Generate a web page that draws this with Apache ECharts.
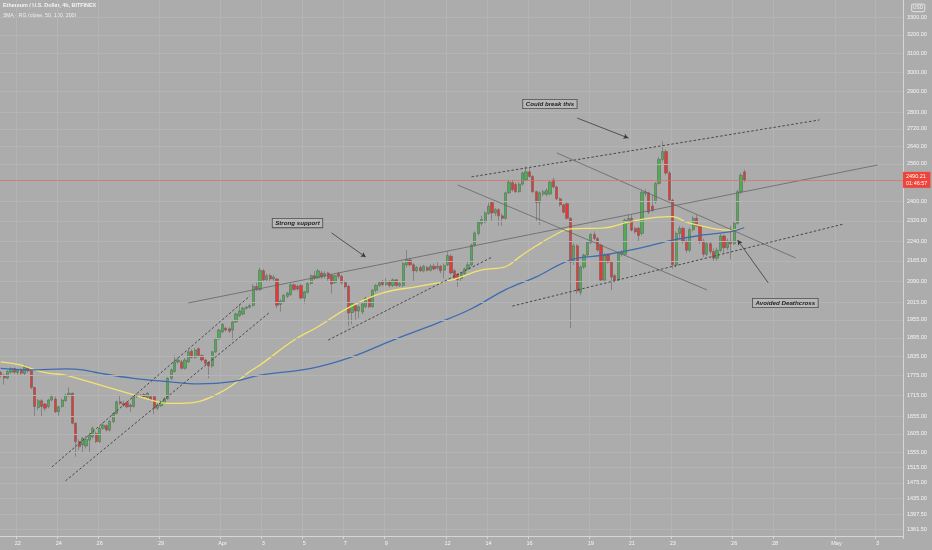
<!DOCTYPE html>
<html><head><meta charset="utf-8">
<script src="https://cdn.jsdelivr.net/npm/echarts@6/dist/echarts.min.js"></script>
<style>html,body{margin:0;padding:0;background:#acacac}#c{width:932px;height:550px}</style>
</head><body><div id="c"></div>
<script>
// ---------- data ----------
const chartTitle = 'Ethereum / U.S. Dollar, 4h, BITFINEX';
const indicatorTitle = '3MA - RG (close, 50, 100, 200)';
const startTime = Date.UTC(2021, 2, 21, 4, 0); // first 4h slot
const slotCount = 265;
// [open, high, low, close] per 4h candle from the first slot
const candles = [
[1785,1790,1770,1776],[1776,1780,1748,1768],[1768,1792,1764,1788],[1786,1801,1782,1797],[1797,1800,1780,1786],
[1785,1796,1778,1792],[1792,1798,1777,1783],[1782,1810,1778,1803],[1800,1806,1784,1790],[1790,1792,1735,1739],
[1739,1742,1655,1683],[1680,1705,1672,1700],[1700,1705,1654,1683],[1690,1694,1670,1678],[1683,1706,1678,1702],
[1702,1718,1698,1712],[1705,1712,1664,1668],[1668,1686,1656,1682],[1683,1706,1680,1702],[1700,1720,1697,1717],
[1716,1740,1712,1722],[1722,1724,1632,1635],[1635,1637,1543,1584],[1584,1590,1560,1570],[1575,1597,1556,1593],
[1572,1600,1565,1590],[1588,1608,1554,1602],[1597,1626,1592,1621],[1606,1612,1580,1584],[1584,1626,1580,1621],
[1621,1636,1616,1630],[1628,1632,1612,1616],[1616,1645,1612,1640],[1640,1666,1635,1663],[1663,1700,1660,1697],
[1697,1717,1688,1692],[1692,1700,1682,1687],[1694,1698,1678,1682],[1687,1692,1668,1683],[1683,1716,1680,1712],
[1712,1722,1708,1717],[1713,1720,1708,1716],[1718,1722,1708,1712],[1710,1726,1706,1722],[1712,1716,1698,1702],
[1712,1716,1661,1678],[1678,1692,1672,1687],[1685,1700,1682,1697],[1694,1710,1690,1706],[1706,1770,1702,1767],
[1767,1798,1762,1793],[1788,1839,1784,1818],[1818,1832,1812,1824],[1818,1824,1794,1798],[1798,1830,1794,1824],
[1818,1856,1814,1850],[1852,1858,1828,1832],[1832,1862,1828,1856],[1860,1864,1834,1838],[1838,1842,1818,1824],
[1824,1828,1808,1813],[1816,1820,1767,1805],[1805,1853,1800,1850],[1850,1896,1846,1892],[1892,1925,1888,1921],
[1915,1944,1910,1940],[1927,1932,1916,1921],[1925,1930,1912,1917],[1921,1952,1888,1948],[1948,1980,1944,1975],
[1969,2008,1965,1985],[1975,2000,1970,1995],[1995,2003,1990,1998],[1998,2010,1994,2004],[2004,2080,2000,2071],
[2071,2085,2055,2060],[2060,2140,2055,2130],[2128,2135,2090,2095],[2095,2118,2088,2110],[2110,2118,2090,2098],
[2098,2112,2090,2105],[2098,2102,1995,2005],[2008,2026,1983,2020],[2018,2044,2012,2040],[2036,2052,2030,2048],
[2042,2082,2038,2077],[2077,2082,2056,2060],[2072,2078,2055,2062],[2075,2080,2026,2030],[2030,2056,2010,2052],
[2050,2086,2046,2082],[2082,2115,2078,2110],[2110,2128,2094,2100],[2102,2135,2098,2128],[2120,2128,2098,2105],
[2108,2126,2100,2118],[2120,2124,2092,2100],[2112,2116,2046,2080],[2085,2115,2080,2110],[2118,2124,2100,2108],
[2108,2114,2078,2085],[2085,2092,2064,2070],[2072,2076,1934,1978],[1980,2016,1940,2012],[2005,2010,1955,1985],
[1985,2005,1960,2000],[1982,2015,1975,2010],[2000,2035,1995,2030],[2030,2034,1995,2000],[2000,2062,1996,2058],
[2058,2080,2050,2075],[2075,2090,2070,2085],[2090,2094,2072,2078],[2078,2102,2074,2090],[2088,2094,2068,2075],
[2075,2100,2070,2095],[2095,2098,2070,2075],[2075,2088,2070,2082],[2075,2160,2070,2155],[2150,2206,2140,2170],
[2168,2176,2145,2150],[2150,2156,2088,2128],[2128,2146,2122,2140],[2140,2148,2124,2128],[2128,2150,2122,2145],
[2140,2146,2125,2130],[2130,2152,2125,2145],[2145,2155,2130,2135],[2138,2160,2132,2145],[2145,2150,2118,2128],
[2130,2155,2100,2148],[2150,2200,2145,2185],[2182,2190,2115,2120],[2128,2135,2094,2100],[2115,2120,2070,2095],
[2100,2124,2090,2118],[2118,2140,2112,2135],[2135,2160,2130,2150],[2150,2230,2145,2225],[2225,2278,2218,2272],
[2270,2320,2262,2315],[2310,2340,2300,2325],[2315,2358,2310,2352],[2350,2395,2345,2380],[2395,2402,2320,2352],
[2352,2372,2340,2365],[2365,2372,2300,2340],[2340,2350,2300,2330],[2330,2440,2325,2435],[2435,2490,2430,2480],
[2478,2490,2440,2448],[2470,2480,2435,2440],[2440,2480,2436,2472],[2472,2525,2465,2520],[2490,2550,2485,2525],
[2525,2545,2500,2505],[2505,2510,2435,2440],[2440,2445,2320,2395],[2395,2442,2303,2435],[2430,2448,2420,2440],
[2428,2455,2420,2445],[2430,2488,2425,2480],[2490,2500,2455,2460],[2460,2465,2405,2410],[2410,2415,2378,2385],
[2385,2390,2350,2355],[2390,2395,2325,2330],[2330,2335,1927,2160],[2165,2232,2150,2222],[2222,2228,2045,2055],
[2050,2148,2040,2142],[2142,2192,2135,2187],[2187,2240,2180,2235],[2235,2272,2228,2266],[2266,2278,2244,2250],
[2250,2256,2200,2206],[2225,2230,2088,2094],[2094,2195,2090,2187],[2187,2192,2155,2160],[2160,2166,2058,2105],
[2110,2116,2085,2094],[2094,2200,2088,2195],[2190,2206,2182,2198],[2190,2330,2185,2323],[2315,2345,2308,2330],
[2330,2345,2278,2283],[2290,2296,2270,2276],[2290,2296,2240,2262],[2270,2442,2262,2438],[2432,2450,2420,2438],
[2435,2440,2348,2355],[2380,2426,2355,2362],[2397,2480,2390,2475],[2475,2590,2470,2580],[2580,2662,2570,2615],
[2615,2625,2510,2520],[2520,2530,2395,2405],[2405,2410,2135,2150],[2150,2278,2140,2270],[2270,2300,2250,2290],
[2290,2296,2230,2240],[2240,2250,2195,2205],[2205,2292,2198,2285],[2285,2340,2278,2330],[2330,2345,2295,2300],
[2300,2306,2230,2240],[2240,2250,2180,2190],[2190,2240,2182,2230],[2230,2240,2190,2200],[2200,2212,2165,2175],
[2175,2215,2165,2205],[2205,2268,2198,2260],[2260,2265,2195,2215],[2215,2250,2205,2240],[2240,2300,2170,2230],
[2230,2315,2225,2310],[2310,2448,2305,2440],[2440,2520,2430,2510],[2525,2535,2480,2490.21]
];
// moving averages at sample slots
const ma50 = [
['03-21 04:00',1818],['03-22 04:00',1808],['03-22 20:00',1793],['03-23 12:00',1783],['03-24 08:00',1777],
['03-25 04:00',1762],['03-26 00:00',1747],['03-26 20:00',1732],['03-27 16:00',1717],['03-28 12:00',1702],
['03-29 08:00',1692],['03-30 00:00',1692],['03-30 20:00',1697],['03-31 16:00',1717],['04-01 12:00',1747],
['04-02 08:00',1788],['04-02 20:00',1808],['04-04 12:00',1888],['04-05 16:00',1932],['04-07 04:00',1997],
['04-08 20:00',2048],['04-10 12:00',2071],['04-12 04:00',2094],['04-13 16:00',2131],['04-14 20:00',2143],
['04-15 12:00',2179],['04-16 08:00',2222],['04-17 04:00',2261],['04-18 00:00',2288],['04-19 16:00',2292],
['04-20 20:00',2315],['04-22 04:00',2334],['04-23 00:00',2337],['04-23 16:00',2315],['04-24 12:00',2298],
['04-25 08:00',2285],['04-26 00:00',2283],['04-26 12:00',2293]
];
const ma100 = [
['03-21 04:00',1798],['03-22 20:00',1793],['03-24 08:00',1796],['03-25 04:00',1793],['03-26 00:00',1783],
['03-27 16:00',1767],['03-29 08:00',1757],['03-30 20:00',1750],['04-01 12:00',1757],['04-02 20:00',1777],
['04-05 08:00',1798],['04-07 08:00',1834],['04-09 08:00',1888],['04-11 12:00',1944],['04-13 04:00',1993],
['04-14 20:00',2060],['04-16 08:00',2106],['04-18 00:00',2168],['04-19 16:00',2187],['04-21 08:00',2212],
['04-23 00:00',2244],['04-24 12:00',2264],['04-25 20:00',2277],['04-26 12:00',2293]
];
const xTickDays = ['03-22','03-24','03-26','03-29','04-01','04-03','04-05','04-07','04-09','04-12',
                   '04-14','04-16','04-19','04-21','04-23','04-26','04-28','05-01','05-03'];
const xTickLabels = ['22','24','26','29','Apr','3','5','7','9','12','14','16','19','21','23','26','28','May','3'];
const yTickValues = [3300,3200,3100,3000,2900,2800,2720,2640,2560,2400,2320,2240,2165,2090,2015,
                     1955,1895,1835,1775,1715,1655,1605,1555,1515,1475,1435,1397.5,1361.5];
const lastPrice = 2490.21;
const countdown = '01:46:57';
const currency = 'USD';
// drawings: [slot, price] anchors
const trendLines = [
  {from:['04-13 04:00',2503], to:['04-30 04:00',2762], dashed:true},
  {from:['03-30 08:00',2013], to:['05-03 00:00',2555], dashed:false},
  {from:['04-12 12:00',2468], to:['04-24 16:00',2059], dashed:false},
  {from:['04-17 08:00',2609], to:['04-29 00:00',2176], dashed:false},
  {from:['04-15 04:00',2002], to:['05-01 08:00',2307], dashed:true},
  {from:['03-23 16:00',1516], to:['04-02 08:00',2037], dashed:true},
  {from:['03-24 08:00',1480], to:['04-03 08:00',1982], dashed:true},
  {from:['04-06 04:00',1888], to:['04-14 04:00',2179], dashed:true}
];
const arrows = [
  {from:['04-18 08:00',2771], to:['04-20 20:00',2677]},
  {from:['04-06 08:00',2272], to:['04-08 00:00',2179]},
  {from:['04-27 16:00',2084], to:['04-26 04:00',2244]}
];
const notes = [
  {text:'Could break this', at:['04-17 00:00',2839]},
  {text:'Strong support', at:['04-04 16:00',2311]},
  {text:'Avoided Deathcross', at:['04-28 12:00',2013]}
];

// ---------- build ----------
const pad = n => String(n).padStart(2, '0');
const categories = [];
for (let k = 0; k < slotCount; k++) {
  const d = new Date(startTime + k * 4 * 3600e3);
  categories.push(pad(d.getUTCMonth() + 1) + '-' + pad(d.getUTCDate()) + ' ' + pad(d.getUTCHours()) + ':00');
}
const idx = name => categories.indexOf(name);
const tickMap = {};
xTickDays.forEach((d, k) => { tickMap[d + ' 00:00'] = xTickLabels[k]; });
const isTick = (i, v) => tickMap[v] !== undefined;

const FONT = 'Liberation Sans';
const chart = echarts.init(document.getElementById('c'));
chart.setOption({
  animation: false,
  backgroundColor: '#acacac',
  grid: {left: -1, right: 29, top: 0, bottom: 14, outerBoundsMode: 'none'},
  xAxis: {
    type: 'category', data: categories,
    axisLine: {show: true, lineStyle: {color: '#d6d6d6', width: 1}},
    axisTick: {show: true, interval: isTick, length: 3, lineStyle: {color: '#d6d6d6'}},
    axisLabel: {interval: isTick, formatter: v => tickMap[v] || '', color: '#f6f6f6', fontSize: 5.5, fontFamily: FONT, margin: 4},
    splitLine: {show: true, interval: isTick, lineStyle: {color: '#b4b4b4', width: 1}}
  },
  yAxis: {
    type: 'log', logBase: 10, min: 1345.5, max: 3398.4, position: 'right',
    axisLine: {show: true, lineStyle: {color: '#d6d6d6', width: 1}},
    axisTick: {show: false}, axisLabel: {show: false}, splitLine: {show: false}
  },
  graphic: [
    {type: 'text', left: 3, top: 3, style: {text: chartTitle, fill: '#f4f4f4', font: 'bold 5.4px ' + FONT}},
    {type: 'text', left: 3, top: 13, style: {text: indicatorTitle, fill: '#eeeeee', font: '5.3px ' + FONT}},
    {type: 'text', left: 911, top: 3.5, style: {text: currency, fill: '#f4f4f4', font: '4.8px ' + FONT,
      backgroundColor: 'transparent', borderColor: '#d8d8d8', borderWidth: 0.6, borderRadius: 1.5, padding: [1.5, 1.5, 1, 1.5]}}
  ],
  series: [
    { // price grid lines + axis labels
      type: 'line', data: [], z: 1, silent: true,
      markLine: {
        silent: true, symbol: ['none', 'none'], animation: false,
        lineStyle: {color: '#b4b4b4', width: 1, type: 'solid'},
        label: {show: true, position: 'end', distance: 4, color: '#f6f6f6', fontSize: 5.5, fontFamily: FONT},
        data: yTickValues.map(v => ({yAxis: v, label: {formatter: v.toFixed(2)}}))
      }
    },
    {
      type: 'candlestick', z: 3,
      data: candles.map(c => [c[0], c[3], c[2], c[1]]),
      barWidth: 2.7,
      itemStyle: {color: '#4caf50', color0: '#e53935', borderColor: '#5c5c5c', borderColor0: '#5c5c5c', borderWidth: 0.5}
    },
    {
      type: 'line', z: 4, data: ma50.map(p => [idx(p[0]), p[1]]), smooth: 0.4, showSymbol: false,
      lineStyle: {color: '#f3e46e', width: 1.3}
    },
    {
      type: 'line', z: 4, data: ma100.map(p => [idx(p[0]), p[1]]), smooth: 0.4, showSymbol: false,
      lineStyle: {color: '#3d6cb3', width: 1.3}
    },
    { // drawings
      type: 'line', data: [], z: 5, silent: true,
      markLine: {
        silent: true, animation: false, symbol: ['none', 'none'], label: {show: false},
        data: trendLines.map(t => [
          {coord: [idx(t.from[0]), t.from[1]], lineStyle: t.dashed ? {color: '#3c3c3c', width: 0.9, type: [2.5, 2]} : {color: '#666666', width: 0.8, type: 'solid'}},
          {coord: [idx(t.to[0]), t.to[1]]}
        ]).concat(arrows.map(a => [
          {coord: [idx(a.from[0]), a.from[1]], symbol: 'none', lineStyle: {color: '#3a3a3a', width: 0.8, type: 'solid'}},
          {coord: [idx(a.to[0]), a.to[1]], symbol: 'arrow', symbolSize: [4, 5]}
        ]))
      },
      markPoint: {
        silent: true, animation: false, symbol: 'rect', symbolSize: 0,
        label: {show: true, position: 'inside', color: '#1e1e1e', fontSize: 6.2, fontStyle: 'italic', fontWeight: 'bold',
                fontFamily: FONT, backgroundColor: '#b8b8b8', borderColor: '#4a4a4a', borderWidth: 0.8, padding: [1.5, 2.5, 1, 2.5]},
        data: notes.map(n => ({coord: [idx(n.at[0]), n.at[1]], label: {formatter: n.text}}))
      }
    },
    { // last price line + tag
      type: 'line', data: [], z: 6, silent: true,
      markLine: {
        silent: true, animation: false, symbol: ['none', 'none'],
        lineStyle: {color: '#e06a60', width: 0.7, type: 'solid'},
        label: {show: true, position: 'end', distance: 0, color: '#ffffff', fontSize: 5.5, fontFamily: FONT, lineHeight: 7,
                backgroundColor: '#f0443a', padding: [1, 3, 1, 3], formatter: lastPrice.toFixed(2) + '\n' + countdown},
        data: [{yAxis: lastPrice}]
      }
    }
  ]
});
</script></body></html>
